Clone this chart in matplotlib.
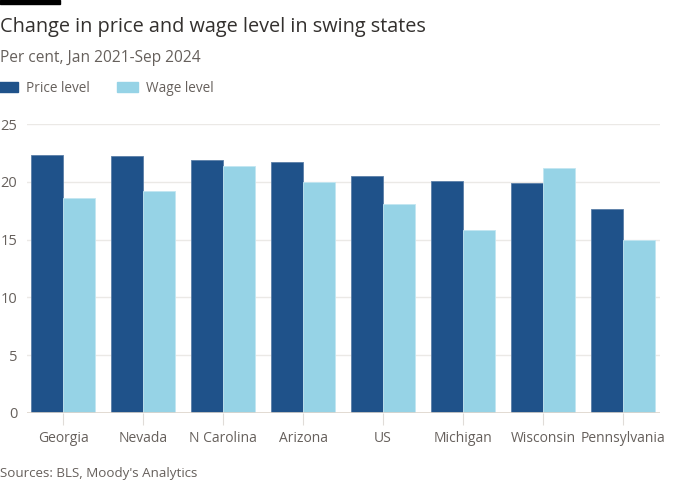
import matplotlib.pyplot as plt
import matplotlib.patches as mpatches
import numpy as np

plt.rcParams['font.family'] = ['Open Sans', 'DejaVu Sans']

states = ['Georgia', 'Nevada', 'N Carolina', 'Arizona', 'US', 'Michigan', 'Wisconsin', 'Pennsylvania']
price_level = [22.3, 22.2, 21.9, 21.75, 20.5, 20.1, 19.9, 17.65]
wage_level = [18.6, 19.2, 21.4, 20.0, 18.05, 15.8, 21.2, 15.0]
yticks = [0, 5, 10, 15, 20, 25]

PRICE = '#1f528a'
WAGE = '#96d3e6'
TXT = '#66605c'

fig = plt.figure(figsize=(7, 5), dpi=100)
ax = fig.add_axes([27/700, 87/500, 633/700, 289/500])

x = np.arange(len(states))
w = 0.4
ax.bar(x - w/2, price_level, width=w, color=PRICE, edgecolor='#5b7fa8', linewidth=0.6, zorder=3)
ax.bar(x + w/2, wage_level, width=w, color=WAGE, edgecolor='#c2e6f1', linewidth=0.6, zorder=3)

ax.set_xlim(-0.45, 7.46)
ax.set_ylim(0, 25)
ax.set_yticks(yticks)
ax.set_yticklabels([str(t) for t in yticks])
ax.set_xticks(x)
ax.set_xticklabels(states)
ax.grid(axis='y', color='#ebe9e6', linewidth=1, zorder=0)
ax.axhline(0, color='#ddd5cc', linewidth=1.2, zorder=4)
for s in ax.spines.values():
    s.set_visible(False)
ax.tick_params(axis='y', length=0, pad=7, labelsize=10.5, labelcolor=TXT)
ax.tick_params(axis='x', length=8.6, width=0.8, color='#e0dcd8', pad=4, labelsize=10, labelcolor=TXT)

# top black bar
fig.patches.append(mpatches.Rectangle((0, 496/500), 60/700, 4/500, transform=fig.transFigure,
                                      color='black', zorder=5))
fig.text(0, 473/500, 'Change in price and wage level in swing states', fontsize=14.3, color='#33302e',
         va='center', ha='left')
fig.text(0, 442/500, 'Per cent, Jan 2021-Sep 2024', fontsize=11.2, color=TXT, va='center', ha='left')

handles = [mpatches.Patch(color=PRICE, label='Price level'), mpatches.Patch(color=WAGE, label='Wage level')]
leg = fig.legend(handles=handles, loc='center left', bbox_to_anchor=(-0.003, 412/500), ncol=2, frameon=False,
                 handlelength=1.5, handleheight=0.75, handletextpad=0.6, columnspacing=2.0,
                 borderpad=0, borderaxespad=0, fontsize=9.8)
for t in leg.get_texts():
    t.set_color(TXT)

fig.text(0, 26/500, "Sources: BLS, Moody's Analytics", fontsize=9.6, color=TXT, va='center', ha='left')

fig.savefig('out.png', dpi=100)
